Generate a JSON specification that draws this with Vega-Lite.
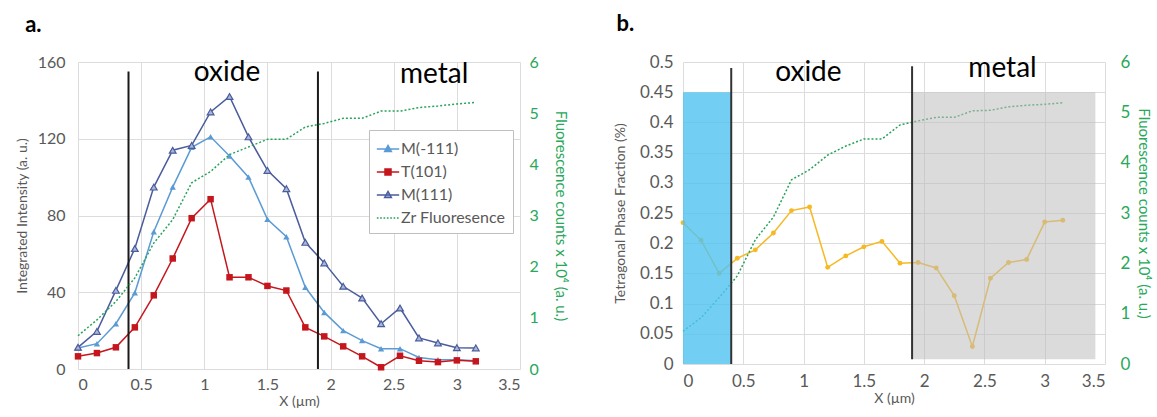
{
  "$schema": "https://vega.github.io/schema/vega-lite/v6.json",
  "padding": {"left": 15, "top": 13, "right": 2, "bottom": 4},
  "datasets": {
    "a": [
      {"x": 0, "s": "M(-111)", "v": 11}, {"x": 0.15, "s": "M(-111)", "v": 13.2}, {"x": 0.3, "s": "M(-111)", "v": 23.6}, {"x": 0.45, "s": "M(-111)", "v": 39.7}, {"x": 0.6, "s": "M(-111)", "v": 71.5}, {"x": 0.75, "s": "M(-111)", "v": 94.8}, {"x": 0.9, "s": "M(-111)", "v": 115.5}, {"x": 1.05, "s": "M(-111)", "v": 121}, {"x": 1.2, "s": "M(-111)", "v": 111}, {"x": 1.35, "s": "M(-111)", "v": 100}, {"x": 1.5, "s": "M(-111)", "v": 78}, {"x": 1.65, "s": "M(-111)", "v": 68.9}, {"x": 1.8, "s": "M(-111)", "v": 42.6}, {"x": 1.95, "s": "M(-111)", "v": 29.5}, {"x": 2.1, "s": "M(-111)", "v": 20}, {"x": 2.25, "s": "M(-111)", "v": 14.8}, {"x": 2.4, "s": "M(-111)", "v": 10.6}, {"x": 2.55, "s": "M(-111)", "v": 10.6}, {"x": 2.7, "s": "M(-111)", "v": 6}, {"x": 2.85, "s": "M(-111)", "v": 4.8}, {"x": 3.0, "s": "M(-111)", "v": 4.8}, {"x": 3.15, "s": "M(-111)", "v": 4.3},
      {"x": 0, "s": "T(101)", "v": 6.6}, {"x": 0.15, "s": "T(101)", "v": 8.3}, {"x": 0.3, "s": "T(101)", "v": 11.3}, {"x": 0.45, "s": "T(101)", "v": 21.7}, {"x": 0.6, "s": "T(101)", "v": 38.4}, {"x": 0.75, "s": "T(101)", "v": 57.6}, {"x": 0.9, "s": "T(101)", "v": 78.6}, {"x": 1.05, "s": "T(101)", "v": 88.5}, {"x": 1.2, "s": "T(101)", "v": 47.8}, {"x": 1.35, "s": "T(101)", "v": 47.8}, {"x": 1.5, "s": "T(101)", "v": 43.3}, {"x": 1.65, "s": "T(101)", "v": 40.9}, {"x": 1.8, "s": "T(101)", "v": 21.7}, {"x": 1.95, "s": "T(101)", "v": 17}, {"x": 2.1, "s": "T(101)", "v": 11.8}, {"x": 2.25, "s": "T(101)", "v": 6.6}, {"x": 2.4, "s": "T(101)", "v": 0.9}, {"x": 2.55, "s": "T(101)", "v": 6.9}, {"x": 2.7, "s": "T(101)", "v": 4.3}, {"x": 2.85, "s": "T(101)", "v": 3.6}, {"x": 3.0, "s": "T(101)", "v": 4.5}, {"x": 3.15, "s": "T(101)", "v": 4},
      {"x": 0, "s": "M(111)", "v": 11.3}, {"x": 0.15, "s": "M(111)", "v": 19.6}, {"x": 0.3, "s": "M(111)", "v": 41}, {"x": 0.45, "s": "M(111)", "v": 62.8}, {"x": 0.6, "s": "M(111)", "v": 94.8}, {"x": 0.75, "s": "M(111)", "v": 114}, {"x": 0.9, "s": "M(111)", "v": 116.5}, {"x": 1.05, "s": "M(111)", "v": 134}, {"x": 1.2, "s": "M(111)", "v": 142}, {"x": 1.35, "s": "M(111)", "v": 121}, {"x": 1.5, "s": "M(111)", "v": 103.5}, {"x": 1.65, "s": "M(111)", "v": 94}, {"x": 1.8, "s": "M(111)", "v": 66}, {"x": 1.95, "s": "M(111)", "v": 55.3}, {"x": 2.1, "s": "M(111)", "v": 43.1}, {"x": 2.25, "s": "M(111)", "v": 37}, {"x": 2.4, "s": "M(111)", "v": 23.6}, {"x": 2.55, "s": "M(111)", "v": 31.8}, {"x": 2.7, "s": "M(111)", "v": 16.2}, {"x": 2.85, "s": "M(111)", "v": 13.6}, {"x": 3.0, "s": "M(111)", "v": 11.1}, {"x": 3.15, "s": "M(111)", "v": 11},
      {"x": 0, "s": "Zr Fluoresence", "v": 0.65}, {"x": 0.15, "s": "Zr Fluoresence", "v": 0.96}, {"x": 0.3, "s": "Zr Fluoresence", "v": 1.32}, {"x": 0.45, "s": "Zr Fluoresence", "v": 1.78}, {"x": 0.6, "s": "Zr Fluoresence", "v": 2.46}, {"x": 0.75, "s": "Zr Fluoresence", "v": 2.92}, {"x": 0.9, "s": "Zr Fluoresence", "v": 3.64}, {"x": 1.05, "s": "Zr Fluoresence", "v": 3.86}, {"x": 1.2, "s": "Zr Fluoresence", "v": 4.19}, {"x": 1.35, "s": "Zr Fluoresence", "v": 4.34}, {"x": 1.5, "s": "Zr Fluoresence", "v": 4.49}, {"x": 1.65, "s": "Zr Fluoresence", "v": 4.49}, {"x": 1.8, "s": "Zr Fluoresence", "v": 4.73}, {"x": 1.95, "s": "Zr Fluoresence", "v": 4.8}, {"x": 2.1, "s": "Zr Fluoresence", "v": 4.9}, {"x": 2.25, "s": "Zr Fluoresence", "v": 4.9}, {"x": 2.4, "s": "Zr Fluoresence", "v": 5.04}, {"x": 2.55, "s": "Zr Fluoresence", "v": 5.04}, {"x": 2.7, "s": "Zr Fluoresence", "v": 5.11}, {"x": 2.85, "s": "Zr Fluoresence", "v": 5.14}, {"x": 3.0, "s": "Zr Fluoresence", "v": 5.18}, {"x": 3.15, "s": "Zr Fluoresence", "v": 5.21}
    ],
    "b": [
      {"x": 0, "s": "Tetragonal", "v": 0.234}, {"x": 0.15, "s": "Tetragonal", "v": 0.205}, {"x": 0.3, "s": "Tetragonal", "v": 0.15}, {"x": 0.45, "s": "Tetragonal", "v": 0.175}, {"x": 0.6, "s": "Tetragonal", "v": 0.189}, {"x": 0.75, "s": "Tetragonal", "v": 0.217}, {"x": 0.9, "s": "Tetragonal", "v": 0.254}, {"x": 1.05, "s": "Tetragonal", "v": 0.26}, {"x": 1.2, "s": "Tetragonal", "v": 0.16}, {"x": 1.35, "s": "Tetragonal", "v": 0.179}, {"x": 1.5, "s": "Tetragonal", "v": 0.194}, {"x": 1.65, "s": "Tetragonal", "v": 0.203}, {"x": 1.8, "s": "Tetragonal", "v": 0.167}, {"x": 1.95, "s": "Tetragonal", "v": 0.168}, {"x": 2.1, "s": "Tetragonal", "v": 0.159}, {"x": 2.25, "s": "Tetragonal", "v": 0.113}, {"x": 2.4, "s": "Tetragonal", "v": 0.029}, {"x": 2.55, "s": "Tetragonal", "v": 0.142}, {"x": 2.7, "s": "Tetragonal", "v": 0.168}, {"x": 2.85, "s": "Tetragonal", "v": 0.173}, {"x": 3.0, "s": "Tetragonal", "v": 0.235}, {"x": 3.15, "s": "Tetragonal", "v": 0.238},
      {"x": 0, "s": "Zr", "v": 0.65}, {"x": 0.15, "s": "Zr", "v": 0.92}, {"x": 0.3, "s": "Zr", "v": 1.32}, {"x": 0.45, "s": "Zr", "v": 1.75}, {"x": 0.6, "s": "Zr", "v": 2.47}, {"x": 0.75, "s": "Zr", "v": 2.92}, {"x": 0.9, "s": "Zr", "v": 3.66}, {"x": 1.05, "s": "Zr", "v": 3.86}, {"x": 1.2, "s": "Zr", "v": 4.15}, {"x": 1.35, "s": "Zr", "v": 4.33}, {"x": 1.5, "s": "Zr", "v": 4.47}, {"x": 1.65, "s": "Zr", "v": 4.47}, {"x": 1.8, "s": "Zr", "v": 4.75}, {"x": 1.95, "s": "Zr", "v": 4.83}, {"x": 2.1, "s": "Zr", "v": 4.9}, {"x": 2.25, "s": "Zr", "v": 4.9}, {"x": 2.4, "s": "Zr", "v": 5.03}, {"x": 2.55, "s": "Zr", "v": 5.04}, {"x": 2.7, "s": "Zr", "v": 5.11}, {"x": 2.85, "s": "Zr", "v": 5.14}, {"x": 3.0, "s": "Zr", "v": 5.16}, {"x": 3.15, "s": "Zr", "v": 5.19}
    ]
  },
  "config": {
    "font": "Lato",
    "view": {"stroke": null},
    "axis": {"labelFont": "Lato", "titleFont": "Lato", "labelColor": "#595959", "titleColor": "#595959", "labelFontSize": 16, "titleFontSize": 14, "titleFontWeight": "normal", "ticks": false, "domain": false, "gridColor": "#dcdcdc", "labelPadding": 12, "labelOverlap": false},
    "legend": {"labelFont": "Lato"},
    "title": {"font": "Lato", "fontSize": 22, "fontWeight": "bold", "color": "#000000", "anchor": "start", "frame": "bounds", "offset": 17}
  },
  "spacing": 45,
  "hconcat": [
    {
      "width": 442,
      "height": 307,
      "title": {"text": "a.", "dx": 10},
      "layer": [
        {
          "layer": [
            {
              "data": {"name": "a"},
              "transform": [{"filter": "datum.s === 'M(-111)'"}],
              "mark": {"type": "line", "strokeWidth": 1.5, "color": "#5b9bd5", "point": {"shape": "triangle-up", "filled": true, "color": "#5b9bd5", "size": 40, "opacity": 1}},
              "encoding": {
                "x": {"field": "x", "type": "quantitative", "scale": {"domain": [0, 3.5]}, "axis": {"values": [0, 0.5, 1, 1.5, 2, 2.5, 3, 3.5], "format": "~g", "title": "X (µm)", "titlePadding": 2, "labelPadding": 7}},
                "y": {"field": "v", "type": "quantitative", "scale": {"domain": [0, 160]}, "axis": {"values": [0, 20, 40, 60, 80, 100, 120, 140, 160], "title": "Integrated Intensity (a. u.)", "titlePadding": 8, "labelPadding": 13}}
              }
            },
            {
              "data": {"name": "a"},
              "transform": [{"filter": "datum.s === 'T(101)'"}],
              "mark": {"type": "line", "strokeWidth": 1.5, "color": "#c5161d", "point": {"shape": "square", "filled": true, "color": "#c5161d", "size": 42, "opacity": 1}},
              "encoding": {"x": {"field": "x", "type": "quantitative"}, "y": {"field": "v", "type": "quantitative"}}
            },
            {
              "data": {"name": "a"},
              "transform": [{"filter": "datum.s === 'M(111)'"}],
              "mark": {"type": "line", "strokeWidth": 1.5, "color": "#4a5c9c", "point": {"shape": "triangle-up", "filled": false, "fill": "#a9b6d8", "stroke": "#4a5c9c", "strokeWidth": 1.2, "size": 45, "opacity": 1}},
              "encoding": {"x": {"field": "x", "type": "quantitative"}, "y": {"field": "v", "type": "quantitative"}}
            },
            {
              "data": {"values": [{"b": 0.4}, {"b": 1.9}]},
              "mark": {"type": "rule", "color": "#1a1a1a", "strokeWidth": 2},
              "encoding": {"x": {"field": "b", "type": "quantitative"}, "y": {"datum": 0}, "y2": {"datum": 155}}
            },
            {
              "data": {"values": [{}]},
              "mark": {"type": "text", "text": "oxide", "fontSize": 28, "font": "Lato", "color": "#000000", "baseline": "alphabetic", "align": "center"},
              "encoding": {"x": {"datum": 1.18}, "y": {"datum": 150}}
            },
            {
              "data": {"values": [{}]},
              "mark": {"type": "text", "text": "metal", "fontSize": 28, "font": "Lato", "color": "#000000", "baseline": "alphabetic", "align": "center"},
              "encoding": {"x": {"datum": 2.82}, "y": {"datum": 149}}
            },
            {
              "data": {"name": "a"},
              "transform": [{"filter": "false"}],
              "mark": {"type": "point", "filled": true, "size": 500, "strokeWidth": 1.5, "opacity": 1},
              "encoding": {
                "x": {"field": "x", "type": "quantitative"},
                "y": {"field": "v", "type": "quantitative"},
                "fill": {"field": "s", "type": "nominal", "scale": {"domain": ["M(-111)", "T(101)", "M(111)", "Zr Fluoresence"], "range": ["#5b9bd5", "#c5161d", "#a9b6d8", "#27a35a"]}, "legend": {"orient": "none", "legendX": 291, "legendY": 68, "title": null, "fillColor": "#ffffff", "strokeColor": "#bfbfbf", "padding": 7, "labelFontSize": 16, "labelColor": "#595959", "symbolSize": 500, "symbolStrokeWidth": 1.5, "rowPadding": 3, "labelOffset": 1}},
                "stroke": {"field": "s", "type": "nominal", "scale": {"domain": ["M(-111)", "T(101)", "M(111)", "Zr Fluoresence"], "range": ["#5b9bd5", "#c5161d", "#4a5c9c", "#27a35a"]}, "legend": {"orient": "none", "legendX": 291, "legendY": 68, "title": null, "fillColor": "#ffffff", "strokeColor": "#bfbfbf", "padding": 7, "labelFontSize": 16, "labelColor": "#595959", "symbolSize": 500, "symbolStrokeWidth": 1.5, "rowPadding": 3, "labelOffset": 1}},
                "shape": {"field": "s", "type": "nominal", "scale": {"domain": ["M(-111)", "T(101)", "M(111)", "Zr Fluoresence"], "range": ["M-1,0H1M0,-0.32L0.3,0.22L-0.3,0.22Z", "M-1,0H1M-0.27,-0.27H0.27V0.27H-0.27Z", "M-1,0H1M0,-0.32L0.3,0.22L-0.3,0.22Z", "M-1,0H-0.85M-0.7,0H-0.55M-0.4,0H-0.25M-0.1,0H0.05M0.2,0H0.35M0.5,0H0.65M0.8,0H0.95"]}, "legend": {"orient": "none", "legendX": 291, "legendY": 68, "title": null, "fillColor": "#ffffff", "strokeColor": "#bfbfbf", "padding": 7, "labelFontSize": 16, "labelColor": "#595959", "symbolSize": 500, "symbolStrokeWidth": 1.5, "rowPadding": 3, "labelOffset": 1}}
              }
            }
          ]
        },
        {
          "data": {"name": "a"},
          "transform": [{"filter": "datum.s === 'Zr Fluoresence'"}],
          "mark": {"type": "line", "strokeDash": [2, 2], "color": "#27a35a", "strokeWidth": 1.5},
          "encoding": {
            "x": {"field": "x", "type": "quantitative"},
            "y": {"field": "v", "type": "quantitative", "scale": {"domain": [0, 6]}, "axis": {"orient": "right", "values": [0, 1, 2, 3, 4, 5, 6], "grid": false, "labelColor": "#28a85a", "titleColor": "#28a85a", "title": "Fluorescence counts x 10⁴ (a. u.)", "titlePadding": 14, "labelPadding": 9, "titleFontSize": 15}}
          }
        }
      ],
      "resolve": {"scale": {"y": "independent"}}
    },
    {
      "width": 422,
      "height": 302,
      "title": {"text": "b.", "dx": 3},
      "layer": [
        {
          "data": {"name": "b"},
          "transform": [{"filter": "datum.s === 'Tetragonal'"}],
          "mark": {"type": "line", "strokeWidth": 1.5, "color": "#f6b923", "point": {"shape": "circle", "filled": true, "color": "#f6b923", "size": 24, "opacity": 1}},
          "encoding": {
            "x": {"field": "x", "type": "quantitative", "scale": {"domain": [0, 3.5]}, "axis": {"values": [0, 0.5, 1, 1.5, 2, 2.5, 3, 3.5], "format": "~g", "title": "X (µm)", "titlePadding": 2, "labelPadding": 9, "labelFontSize": 17}},
            "y": {"field": "v", "type": "quantitative", "scale": {"domain": [0, 0.5]}, "axis": {"values": [0, 0.05, 0.1, 0.15, 0.2, 0.25, 0.3, 0.35, 0.4, 0.45, 0.5], "format": "~g", "title": "Tetragonal Phase Fraction (%)", "titlePadding": 12, "labelPadding": 10, "labelFontSize": 17}}
          }
        },
        {
          "data": {"name": "b"},
          "transform": [{"filter": "datum.s === 'Zr'"}],
          "mark": {"type": "line", "strokeDash": [2, 2], "color": "#27a35a", "strokeWidth": 1.5},
          "encoding": {
            "x": {"field": "x", "type": "quantitative"},
            "y": {"field": "v", "type": "quantitative", "scale": {"domain": [0, 6]}, "axis": {"orient": "right", "values": [0, 1, 2, 3, 4, 5, 6], "grid": false, "labelColor": "#28a85a", "titleColor": "#28a85a", "title": "Fluorescence counts x 10⁴ (a. u.)", "titlePadding": 6, "labelPadding": 15, "labelFontSize": 17, "titleFontSize": 15}}
          }
        },
        {
          "data": {"values": [{}]},
          "layer": [
            {
              "mark": {"type": "rect", "color": "#4fc3f0", "opacity": 0.8},
              "encoding": {"x": {"datum": 0, "type": "quantitative"}, "x2": {"datum": 0.4}, "y": {"datum": 0, "type": "quantitative", "scale": {"domain": [0, 0.5]}, "axis": null}, "y2": {"datum": 0.45}}
            },
            {
              "mark": {"type": "rect", "color": "#bdbdbd", "opacity": 0.55},
              "encoding": {"x": {"datum": 1.9, "type": "quantitative"}, "x2": {"datum": 3.42}, "y": {"datum": 0.008, "type": "quantitative"}, "y2": {"datum": 0.45}}
            },
            {
              "mark": {"type": "rule", "color": "#333333", "strokeWidth": 2},
              "encoding": {"x": {"datum": 0.4, "type": "quantitative"}, "y": {"datum": 0, "type": "quantitative"}, "y2": {"datum": 0.49}}
            },
            {
              "mark": {"type": "rule", "color": "#333333", "strokeWidth": 2},
              "encoding": {"x": {"datum": 1.9, "type": "quantitative"}, "y": {"datum": 0.008, "type": "quantitative"}, "y2": {"datum": 0.493}}
            },
            {
              "mark": {"type": "text", "text": "oxide", "fontSize": 28, "font": "Lato", "color": "#000000", "baseline": "alphabetic", "align": "center"},
              "encoding": {"x": {"datum": 1.04, "type": "quantitative"}, "y": {"datum": 0.468, "type": "quantitative"}}
            },
            {
              "mark": {"type": "text", "text": "metal", "fontSize": 28, "font": "Lato", "color": "#000000", "baseline": "alphabetic", "align": "center"},
              "encoding": {"x": {"datum": 2.65, "type": "quantitative"}, "y": {"datum": 0.475, "type": "quantitative"}}
            }
          ]
        }
      ],
      "resolve": {"scale": {"y": "independent"}}
    }
  ]
}
